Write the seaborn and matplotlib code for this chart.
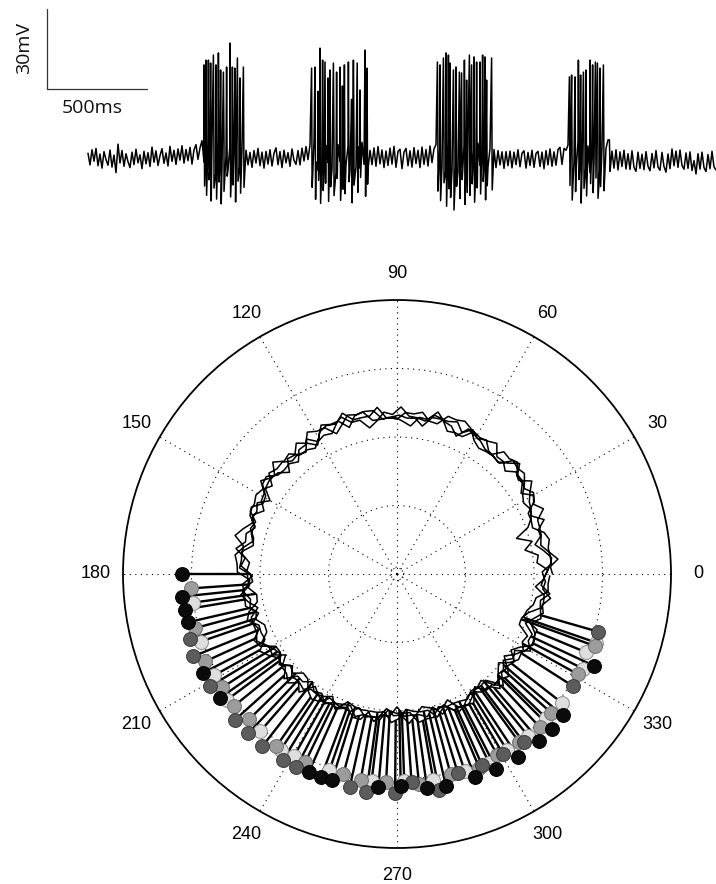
import numpy as np
import pandas as pd
import matplotlib
matplotlib.use("Agg")
import matplotlib.pyplot as plt
import seaborn as sns

sns.set_style("white")
plt.rcParams["font.family"] = ["Liberation Sans", "DejaVu Sans"]

# ---------------- top trace data (membrane potential, mV) ----------------
rest_mv = -60.0
sample_dt_ms = 10
trace_start_ms = 440
trace_dev_mv = [
    1.8, -2.6, 3.1, -1.2, 3.6, -2.9, 1.5, -3.8, 2.4, -0.6, -2.7, 3.0, -3.4, 1.1, -5.5,
    5.2, -1.9, 2.8, -3.1, 1.6, -1.4, -3.6, 2.2, -2.5, 3.3, -1.8, 1.2, -4.0, 2.5, -2.2,
    2.0, -3.2, 4.1, -1.6, 2.7, -2.8, 0.9, 3.5, -2.0, 1.9, -3.0, 4.4, -1.3, 2.9, -2.4,
    3.4, -0.8, 4.6, -1.9, 3.2, -1.0, 4.0, -2.3, 3.0, 5.0, -0.5, 3.8, 6.5, -1.5, 4.8,
    5.5, -4.0, 6.0, -1.0, -5.0, 5.8, -2.0, -3.5, 6.0, 0.5, -4.5, 5.0, -2.0, 4.5, -3.0,
    5.0, -2.5, 3.8, -4.6, 2.9, -2.6, 2.1, -3.5, 2.8, -1.9, 3.6, -2.9, 2.2, -3.8, 2.5,
    -2.3, 3.1, -3.0, 1.8, 3.8, -2.5, 2.4, -3.6, 2.9, -1.8, 2.0, -3.1, 3.4, -0.9, -2.4,
    2.8, -2.6, 3.7, -1.1, 4.3, -0.6, 5.0, -3.0, 6.0, -1.5, -4.6, 5.6, -0.8, -5.2, 4.7,
    -1.7, 6.1, -4.2, 3.9, -5.4, 5.0, -1.2, -3.9, 5.7, -2.6, 4.4, -4.8, 3.5, 5.4, -3.3,
    4.2, -3.8, 5.9, -2.4, 3.6, -4.4, 2.9, -2.5, 3.8, -3.1, 4.3, -2.2, 3.0, -3.6, 2.6,
    -2.8, 3.7, -2.3, 4.4, -3.5, 2.5, 3.3, -4.0, 2.2, 3.6, -2.9, 2.7, -3.4, 3.9, -2.1,
    2.9, -3.6, 4.1, -2.4, 3.2, -3.0, 4.5, -1.7, 3.4, 5.0, -1.4, 5.8, -3.0, 6.2, -4.4,
    5.6, -1.6, -4.9, 6.4, -0.9, -5.3, 5.2, -2.8, 4.7, -4.1, 6.0, -1.8, -5.6, 4.9, -3.5,
    5.5, -2.7, 4.2, -4.3, 5.1, -3.4, 3.8, -2.3, 3.2, -3.6, 2.8, -2.6, 2.3, -3.9, 2.4,
    -2.9, 2.6, -3.7, 2.2, -2.5, 3.1, -3.3, 1.8, 2.7, -3.8, 2.1, -2.8, 2.9, -3.5, 1.7,
    2.5, -3.2, 2.2, -4.0, 2.8, -2.6, 3.4, -3.1, 2.3, -2.7, 3.2, 4.0, -2.4, 3.6, 2.9,
    4.8, -4.2, 5.6, -1.3, -5.1, 6.1, -0.8, -4.6, 5.3, -2.9, 4.5, -5.4, 5.8, -1.5, -4.0,
    5.0, -3.4, 4.1, -4.7, 3.6, 6.8, -3.0, 2.6, -3.8, 3.1, -4.5, 2.3, -3.2, 2.9, -4.1,
    1.6, -4.3, 2.7, -3.5, -5.0, 2.2, -3.9, 1.4, -4.4, 2.4, -3.1, -4.8, 1.7, -3.7, 2.8,
    -3.4, -4.6, 2.1, -3.2, -5.3, 1.5, -4.0, 3.4, -2.9, 2.6, -3.5, 3.0, -2.8, -4.2, 1.9,
    -3.9, 2.3, -4.7, -1.0, -6.0, 1.6, -4.2, 2.2, -3.6, -5.1, 1.3, -4.0, 2.5, -3.3, -4.5,
]

spike_t_ms = [
    1020, 1030, 1042, 1053, 1067, 1080, 1092, 1103, 1117, 1133, 1150, 1162, 1175, 1187, 1200, 1217,
    1558, 1575, 1590, 1600, 1613, 1625, 1640, 1650, 1667, 1683, 1700, 1712, 1722, 1742, 1758, 1767,
    1786, 1800, 1825, 1835,
    2187, 2200, 2217, 2230, 2242, 2250, 2267, 2280, 2297, 2308, 2322, 2333, 2347, 2358, 2370, 2383,
    2400, 2413, 2425, 2433, 2458,
    2847, 2858, 2875, 2892, 2903, 2917, 2930, 2950, 2963, 2977, 2987, 3000, 3017, 3047,
]
spike_peak_mv = [
    -25.1, -23.3, -23.3, -24.4, -21.4, -25.1, -20.6, -27.0, -27.8, -25.9, -16.9, -25.9, -26.3, -22.5, -30.0, -25.9,
    -26.3, -25.9, -35.0, -18.8, -23.3, -24.0, -30.0, -27.0, -24.4, -27.8, -25.9, -33.0, -25.1, -24.0, -38.0, -23.3,
    -24.4, -34.5, -19.5, -26.3,
    -24.0, -25.1, -22.5, -20.6, -21.4, -24.4, -27.0, -25.9, -27.8, -28.1, -23.3, -30.8, -21.4, -25.1, -22.1, -24.0,
    -24.0, -21.4, -22.1, -30.8, -22.5,
    -29.6, -28.9, -29.6, -23.3, -28.9, -27.8, -27.0, -23.3, -25.1, -24.0, -24.4, -26.3, -25.1, -53.2,
]
spike_trough_mv = [
    -70.5, -74.0, -68.2, -76.1, -71.3, -75.4, -69.0, -77.2, -72.5, -66.8, -74.6, -70.1, -76.5, -68.7, -73.2, -71.0,
    -71.0, -75.5, -68.4, -77.0, -72.2, -69.5, -76.3, -70.8, -74.1, -67.6, -75.9, -71.7, -73.4, -68.9, -76.8, -70.2,
    -72.9, -67.3, -74.4, -69.8,
    -72.4, -76.0, -69.3, -78.1, -71.5, -74.8, -79.5, -70.6, -75.2, -68.1, -77.4, -72.9, -74.0, -69.7, -76.6, -71.2,
    -73.5, -68.8, -75.7, -70.4, -72.0,
    -70.3, -75.8, -72.6, -68.1, -76.9, -71.4, -74.2, -69.6, -73.0, -67.5, -75.1, -70.7, -72.3, -65.0,
]

scale_time_ms = 500
scale_volt_mv = 30

# ---------------- polar data (phase in degrees, radius in plot units) ----------------
phase_step_deg = 3
cycle_phase_offset_deg = [0.0, 0.8, 1.6, 2.3]
# mean radius of the trace for each 30-degree sector (0-30, 30-60, ...)
sector_mean_r = [2.20, 2.27, 2.31, 2.33, 2.30, 2.25, 2.19, 2.12, 2.08, 2.07, 2.10, 2.15]
# slow wander of each cycle around the sector mean
cycle1_dev = [
    0.03, 0.07, 0.02, -0.04, -0.09, -0.05, 0.01, 0.06, 0.10, 0.04,
    -0.02, -0.07, -0.03, 0.04, 0.08, 0.03, -0.03, -0.08, -0.11, -0.05,
    0.00, 0.05, 0.09, 0.12, 0.06, 0.01, -0.04, 0.02, 0.07, 0.03,
    -0.03, -0.09, -0.05, 0.00, 0.06, 0.02, -0.03, 0.04, 0.09, 0.05,
    -0.01, -0.06, -0.10, -0.04, 0.01, 0.07, 0.11, 0.06, 0.00, -0.05,
    -0.08, -0.02, 0.04, 0.00, -0.06, -0.02, 0.05, 0.10, 0.04, -0.01,
    -0.07, -0.03, 0.02, 0.08, 0.04, -0.02, -0.08, -0.12, -0.06, 0.00,
    0.05, 0.01, -0.05, -0.01, 0.06, 0.11, 0.05, -0.01, -0.06, -0.02,
    0.03, 0.09, 0.04, -0.03, -0.09, -0.04, 0.02, 0.07, 0.01, -0.05,
    -0.10, -0.05, 0.01, 0.06, 0.02, -0.04, 0.03, 0.08, 0.12, 0.06,
    0.00, -0.06, -0.02, 0.04, 0.09, 0.03, -0.03, -0.09, -0.04, 0.01,
    0.07, 0.02, -0.04, -0.10, -0.06, 0.00, 0.05, 0.10, 0.04, -0.02,
]
cycle2_dev = [
    -0.04, 0.01, 0.06, 0.10, 0.05, -0.01, -0.06, -0.11, -0.06, 0.00,
    0.05, 0.02, -0.03, 0.03, 0.08, 0.12, 0.07, 0.01, -0.05, -0.02,
    0.04, -0.01, -0.07, -0.03, 0.03, 0.08, 0.03, -0.03, -0.08, -0.12,
    -0.06, 0.00, 0.06, 0.03, -0.02, 0.05, 0.10, 0.04, -0.02, -0.07,
    -0.03, 0.03, -0.02, -0.08, -0.04, 0.02, 0.07, 0.02, -0.04, 0.01,
    0.06, 0.11, 0.06, 0.00, -0.05, -0.10, -0.05, 0.01, 0.05, 0.00,
    -0.05, 0.01, 0.07, 0.03, -0.03, -0.07, -0.02, 0.04, 0.09, 0.04,
    -0.02, -0.08, -0.03, 0.03, 0.07, 0.01, -0.05, -0.11, -0.06, 0.00,
    0.06, 0.03, -0.02, 0.04, 0.10, 0.05, -0.01, -0.06, -0.01, 0.05,
    0.00, -0.06, -0.10, -0.04, 0.02, 0.07, 0.02, -0.03, 0.03, 0.09,
    0.04, -0.02, -0.08, -0.03, 0.02, -0.03, -0.09, -0.04, 0.02, 0.08,
    0.12, 0.06, 0.00, -0.05, 0.00, 0.06, 0.02, -0.04, -0.09, -0.03,
]
cycle3_dev = [
    -0.02, -0.10, -0.18, -0.28, -0.20, -0.34, -0.22, -0.08, 0.02, -0.03,
    0.03, 0.08, 0.03, -0.03, -0.08, -0.03, 0.02, 0.07, 0.11, 0.05,
    0.00, -0.05, -0.10, -0.05, 0.01, 0.06, 0.02, -0.04, 0.02, 0.08,
    0.03, -0.02, -0.07, -0.11, -0.06, 0.00, 0.05, 0.10, 0.05, 0.00,
    -0.05, 0.01, 0.06, 0.02, -0.04, -0.09, -0.04, 0.02, 0.07, 0.03,
    -0.03, -0.08, -0.03, 0.03, 0.08, 0.12, 0.06, 0.01, -0.04, -0.10,
    -0.05, 0.01, 0.06, 0.01, -0.05, 0.00, 0.05, 0.09, 0.04, -0.02,
    -0.07, -0.02, 0.03, -0.02, -0.08, -0.12, -0.07, -0.01, 0.04, 0.09,
    0.04, -0.01, -0.06, -0.02, 0.04, 0.08, 0.03, -0.03, -0.08, -0.03,
    0.03, 0.07, 0.02, -0.04, -0.09, -0.04, 0.01, 0.06, 0.11, 0.05,
    0.00, -0.05, 0.00, 0.05, 0.10, 0.04, -0.02, -0.07, -0.03, 0.02,
    -0.04, -0.10, -0.17, -0.24, -0.14, -0.05, 0.02, 0.07, 0.02, -0.04,
]
cycle4_dev = [
    0.05, 0.10, 0.05, -0.01, -0.07, -0.02, 0.04, 0.00, -0.06, -0.11,
    -0.06, 0.00, 0.05, 0.10, 0.04, -0.02, -0.07, -0.02, 0.04, 0.09,
    0.04, -0.02, 0.03, 0.08, 0.03, -0.03, -0.09, -0.04, 0.02, -0.03,
    -0.08, -0.03, 0.03, 0.08, 0.12, 0.07, 0.01, -0.04, 0.01, 0.06,
    0.10, 0.05, -0.01, -0.07, -0.11, -0.05, 0.00, 0.05, 0.01, -0.04,
    0.02, 0.07, 0.02, -0.04, -0.09, -0.04, 0.02, 0.07, 0.12, 0.06,
    0.00, -0.06, -0.11, -0.05, 0.01, 0.06, 0.01, -0.05, -0.01, 0.05,
    0.10, 0.05, -0.01, -0.07, -0.02, 0.04, 0.09, 0.04, -0.02, -0.08,
    -0.03, 0.03, 0.08, 0.02, -0.04, 0.01, 0.07, 0.03, -0.03, -0.09,
    -0.05, 0.01, 0.06, 0.11, 0.06, 0.00, -0.05, -0.01, 0.05, 0.00,
    -0.06, -0.11, -0.06, 0.00, 0.05, 0.09, 0.04, -0.02, -0.07, -0.02,
    0.04, 0.09, 0.03, -0.15, -0.22, -0.12, -0.03, 0.04, 0.08, 0.03,
]
# fast sample-to-sample jitter of each cycle
cycle1_jit = [
    0.04, -0.03, 0.05, 0.01, -0.05, 0.03, -0.02, -0.06, 0.04, 0.00,
    0.05, -0.04, 0.02, -0.05, 0.06, -0.01, -0.04, 0.03, 0.05, -0.03,
    -0.06, 0.02, 0.04, -0.02, 0.05, -0.05, 0.01, 0.06, -0.03, 0.02,
    -0.04, 0.05, -0.01, -0.06, 0.03, 0.04, -0.05, 0.02, -0.03, 0.06,
    0.00, -0.05, 0.04, -0.02, 0.05, -0.04, 0.03, -0.06, 0.01, 0.04,
    -0.03, 0.06, -0.05, 0.02, -0.01, 0.05, -0.04, 0.03, -0.06, 0.04,
    0.02, -0.05, 0.06, -0.02, 0.03, -0.04, 0.05, 0.00, -0.05, 0.03,
    -0.02, 0.04, -0.06, 0.05, -0.01, 0.02, -0.04, 0.06, -0.03, 0.01,
    0.05, -0.04, 0.02, -0.05, 0.04, 0.01, -0.06, 0.03, -0.02, 0.05,
    -0.03, 0.06, -0.01, -0.05, 0.04, -0.02, 0.05, -0.06, 0.02, 0.03,
    -0.04, 0.01, 0.05, -0.03, 0.06, -0.05, 0.02, -0.01, 0.04, -0.06,
    0.03, -0.02, 0.05, -0.04, 0.01, 0.06, -0.03, 0.02, -0.05, 0.04,
]
cycle2_jit = [
    -0.04, 0.05, -0.01, -0.06, 0.03, 0.04, -0.05, 0.02, -0.03, 0.06,
    0.00, -0.05, 0.04, -0.02, 0.05, -0.04, 0.03, -0.06, 0.01, 0.04,
    -0.03, 0.06, -0.05, 0.02, -0.01, 0.05, -0.04, 0.03, -0.06, 0.04,
    0.02, -0.05, 0.06, -0.02, 0.03, -0.04, 0.05, 0.00, -0.05, 0.03,
    -0.02, 0.04, -0.06, 0.05, -0.01, 0.02, -0.04, 0.06, -0.03, 0.01,
    0.05, -0.04, 0.02, -0.05, 0.04, 0.01, -0.06, 0.03, -0.02, 0.05,
    -0.03, 0.06, -0.01, -0.05, 0.04, -0.02, 0.05, -0.06, 0.02, 0.03,
    -0.04, 0.01, 0.05, -0.03, 0.06, -0.05, 0.02, -0.01, 0.04, -0.06,
    0.03, -0.02, 0.05, -0.04, 0.01, 0.06, -0.03, 0.02, -0.05, 0.04,
    0.04, -0.03, 0.05, 0.01, -0.05, 0.03, -0.02, -0.06, 0.04, 0.00,
    0.05, -0.04, 0.02, -0.05, 0.06, -0.01, -0.04, 0.03, 0.05, -0.03,
    -0.06, 0.02, 0.04, -0.02, 0.05, -0.05, 0.01, 0.06, -0.03, 0.02,
]
cycle3_jit = [
    0.02, -0.05, 0.06, -0.02, 0.03, -0.04, 0.05, 0.00, -0.05, 0.03,
    -0.02, 0.04, -0.06, 0.05, -0.01, 0.02, -0.04, 0.06, -0.03, 0.01,
    0.05, -0.04, 0.02, -0.05, 0.04, 0.01, -0.06, 0.03, -0.02, 0.05,
    -0.03, 0.06, -0.01, -0.05, 0.04, -0.02, 0.05, -0.06, 0.02, 0.03,
    -0.04, 0.01, 0.05, -0.03, 0.06, -0.05, 0.02, -0.01, 0.04, -0.06,
    0.03, -0.02, 0.05, -0.04, 0.01, 0.06, -0.03, 0.02, -0.05, 0.04,
    0.04, -0.03, 0.05, 0.01, -0.05, 0.03, -0.02, -0.06, 0.04, 0.00,
    0.05, -0.04, 0.02, -0.05, 0.06, -0.01, -0.04, 0.03, 0.05, -0.03,
    -0.06, 0.02, 0.04, -0.02, 0.05, -0.05, 0.01, 0.06, -0.03, 0.02,
    -0.04, 0.05, -0.01, -0.06, 0.03, 0.04, -0.05, 0.02, -0.03, 0.06,
    0.00, -0.05, 0.04, -0.02, 0.05, -0.04, 0.03, -0.06, 0.01, 0.04,
    -0.03, 0.06, -0.05, 0.02, -0.01, 0.05, -0.04, 0.03, -0.06, 0.04,
]
cycle4_jit = [
    -0.03, 0.06, -0.01, -0.05, 0.04, -0.02, 0.05, -0.06, 0.02, 0.03,
    -0.04, 0.01, 0.05, -0.03, 0.06, -0.05, 0.02, -0.01, 0.04, -0.06,
    0.03, -0.02, 0.05, -0.04, 0.01, 0.06, -0.03, 0.02, -0.05, 0.04,
    0.04, -0.03, 0.05, 0.01, -0.05, 0.03, -0.02, -0.06, 0.04, 0.00,
    0.05, -0.04, 0.02, -0.05, 0.06, -0.01, -0.04, 0.03, 0.05, -0.03,
    -0.06, 0.02, 0.04, -0.02, 0.05, -0.05, 0.01, 0.06, -0.03, 0.02,
    -0.04, 0.05, -0.01, -0.06, 0.03, 0.04, -0.05, 0.02, -0.03, 0.06,
    0.00, -0.05, 0.04, -0.02, 0.05, -0.04, 0.03, -0.06, 0.01, 0.04,
    -0.03, 0.06, -0.05, 0.02, -0.01, 0.05, -0.04, 0.03, -0.06, 0.04,
    0.02, -0.05, 0.06, -0.02, 0.03, -0.04, 0.05, 0.00, -0.05, 0.03,
    -0.02, 0.04, -0.06, 0.05, -0.01, 0.02, -0.04, 0.06, -0.03, 0.01,
    0.05, -0.04, 0.02, -0.05, 0.04, 0.01, -0.06, 0.03, -0.02, 0.05,
]

spk1_phase = [180, 186, 189.5, 193, 207, 215, 246, 249.5, 252.5, 265, 271, 278, 283, 291, 297, 303.5, 310.5, 315, 319.5, 335]
spk1_peak = [3.14, 3.15, 3.14, 3.13, 3.18, 3.16, 3.17, 3.16, 3.15, 3.12, 3.10, 3.15, 3.17, 3.18, 3.19, 3.20, 3.20, 3.21, 3.18, 3.18]
spk2_phase = [197.5, 202, 211, 222, 227, 232, 238.5, 242.5, 257.5, 262, 269.5, 274, 281, 287, 294, 300.5, 307, 327.5, 344]
spk2_peak = [3.17, 3.21, 3.18, 3.19, 3.18, 3.19, 3.18, 3.18, 3.18, 3.21, 3.19, 3.05, 3.21, 3.04, 3.06, 3.05, 3.08, 3.04, 3.05]
spk3_phase = [184, 195, 204.5, 213, 219, 224.5, 235, 244, 255, 260, 267, 276, 285, 293, 299, 306, 313, 318, 331, 340]
spk3_peak = [3.02, 3.05, 3.08, 3.04, 3.06, 3.03, 3.07, 3.05, 3.02, 3.06, 3.04, 3.08, 3.03, 3.07, 3.02, 3.04, 3.06, 3.03, 3.02, 3.08]
spk4_phase = [188, 199, 209, 216.5, 229, 236.5, 240.5, 251, 263, 272, 280, 289, 296, 302, 309, 316, 322, 333, 337.5, 341]
spk4_peak = [3.00, 3.03, 3.05, 3.09, 3.04, 3.08, 3.06, 3.03, 3.05, 3.02, 3.06, 3.04, 3.07, 3.03, 3.05, 3.02, 3.06, 3.04, 2.98, 3.08]

dot_fill = ["#0b0b0b", "#5c5c5c", "#9c9c9c", "#dedede"]
dot_edge = ["#000000", "#3a3a3a", "#6e6e6e", "#8c8c8c"]
theta_labels = [0, 30, 60, 90, 120, 150, 180, 210, 240, 270, 300, 330]
ring_values = [0.1, 1, 2, 3]
r_max = 4

# ---------------- figure ----------------
fig = plt.figure(figsize=(7.16, 8.84), dpi=100)

# --- top trace ---
axt = fig.add_axes([0, 1 - 215 / 884, 1, 215 / 884])
base_t = trace_start_ms + sample_dt_ms * np.arange(len(trace_dev_mv))
base_v = rest_mv + np.asarray(trace_dev_mv)
st = np.asarray(spike_t_ms, float)
t_all = np.concatenate([base_t, st, st + 3])
v_all = np.concatenate([base_v, spike_peak_mv, spike_trough_mv])
order = np.argsort(t_all, kind="stable")
top_df = pd.DataFrame({"t": t_all[order], "v": v_all[order]})
sns.lineplot(data=top_df, x="t", y="v", sort=False, estimator=None,
             color="black", linewidth=1.1, ax=axt)
# scale bar
sb_t0, sb_v0 = 233, -34.1
axt.plot([sb_t0, sb_t0], [sb_v0, sb_v0 + scale_volt_mv], color="#333333", lw=0.9)
axt.plot([sb_t0, sb_t0 + scale_time_ms], [sb_v0, sb_v0], color="#333333", lw=0.9)
axt.text(122, -18.6, f"{scale_volt_mv}mV", rotation=90, ha="center", va="center",
         fontsize=14, color="#111111", family=["Open Sans", "DejaVu Sans"])
axt.text(460, -41.3, f"{scale_time_ms}ms", ha="center", va="center",
         fontsize=14, color="#111111", family=["Open Sans", "DejaVu Sans"])
axt.set_xlim(0, 3580)
axt.set_ylim(-81.37, -0.76)
axt.axis("off")

# --- polar plot ---
R_px = 274
cx, cy = 397, 574
axp = fig.add_axes([(cx - R_px) / 716, (884 - cy - R_px) / 884, 2 * R_px / 716, 2 * R_px / 884],
                   projection="polar")

devs = [cycle1_dev, cycle2_dev, cycle3_dev, cycle4_dev]
jits = [cycle1_jit, cycle2_jit, cycle3_jit, cycle4_jit]
cycles, cycle_phases = [], []
for k in range(4):
    n = min(len(devs[k]), len(jits[k]))
    ph = cycle_phase_offset_deg[k] + phase_step_deg * np.arange(n)
    sector = np.minimum((ph // 30).astype(int), 11)
    cycles.append(np.asarray(sector_mean_r)[sector] + np.asarray(devs[k][:n]) + np.asarray(jits[k][:n]))
    cycle_phases.append(ph)

trace_rows = []
for k, c in enumerate(cycles):
    for p, r in zip(cycle_phases[k], c):
        trace_rows.append((np.deg2rad(p + 360 * k), r))
trace_df = pd.DataFrame(trace_rows, columns=["theta", "r"])

spk_phases = [spk1_phase, spk2_phase, spk3_phase, spk4_phase]
spk_peaks = [spk1_peak, spk2_peak, spk3_peak, spk4_peak]
rows = []
for k in range(4):
    for p, pk in zip(spk_phases[k], spk_peaks[k]):
        base = np.interp(p, cycle_phases[k], cycles[k])
        rows.append((k, np.deg2rad(p), base, pk))
spk_df = pd.DataFrame(rows, columns=["cycle", "theta", "base", "peak"])

sns.lineplot(data=trace_df, x="theta", y="r", sort=False, estimator=None,
             color="black", linewidth=1.1, ax=axp, zorder=3)
axp.vlines(spk_df["theta"], spk_df["base"], spk_df["peak"], color="black",
           linewidth=1.7, zorder=3)

for k in [3, 2, 1, 0]:
    sub = spk_df[spk_df["cycle"] == k]
    sns.scatterplot(data=sub, x="theta", y="peak", color=dot_fill[k],
                    edgecolor=dot_edge[k], linewidth=0.7, s=100, ax=axp,
                    zorder=4 + (3 - k), legend=False)

axp.set_ylim(0, r_max)
axp.set_xticks(np.deg2rad(theta_labels))
axp.set_xticklabels([])
axp.set_yticks(ring_values)
axp.set_yticklabels([])
axp.set_xlabel("")
axp.set_ylabel("")
axp.grid(True, color="black", linestyle=(0, (1, 4)), linewidth=0.8)
axp.spines["polar"].set_linewidth(1.3)
axp.spines["polar"].set_color("black")
for ang in theta_labels:
    axp.text(np.deg2rad(ang), r_max * 301 / R_px, str(ang), ha="center", va="center",
             fontsize=13, color="black")

fig.savefig("out.png", dpi=100)
